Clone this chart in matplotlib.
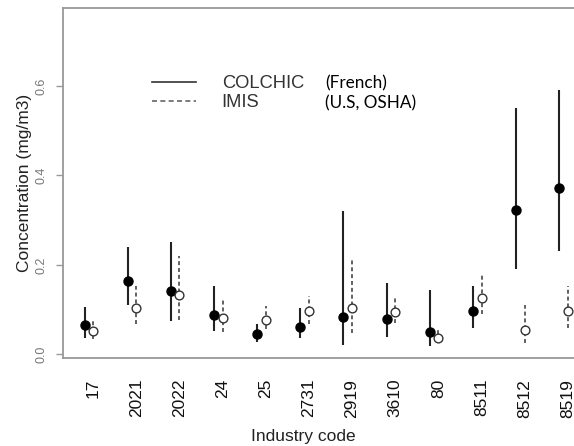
import matplotlib
matplotlib.use("Agg")
import matplotlib.pyplot as plt
from matplotlib.lines import Line2D
import numpy as np

codes = ['17', '2021', '2022', '24', '25', '2731', '2919', '3610', '80', '8511', '8512', '8519']
colchic_mean = [0.065, 0.163, 0.141, 0.089, 0.045, 0.062, 0.084, 0.080, 0.050, 0.097, 0.323, 0.372]
colchic_low = [0.037, 0.111, 0.074, 0.053, 0.027, 0.037, 0.022, 0.039, 0.019, 0.060, 0.190, 0.232]
colchic_high = [0.105, 0.241, 0.251, 0.152, 0.069, 0.104, 0.320, 0.160, 0.143, 0.152, 0.550, 0.591]
imis_mean = [0.052, 0.103, 0.132, 0.082, 0.078, 0.096, 0.103, 0.094, 0.037, 0.125, 0.054, 0.098]
imis_low = [0.035, 0.067, 0.078, 0.051, 0.057, 0.067, 0.048, 0.071, 0.030, 0.090, 0.026, 0.060]
imis_high = [0.080, 0.152, 0.219, 0.123, 0.108, 0.130, 0.212, 0.126, 0.056, 0.178, 0.111, 0.152]
yticks = [0.0, 0.2, 0.4, 0.6]
ytick_labels = ['0.0', '0.2', '0.4', '0.6']

W, H = 574, 446
fig = plt.figure(figsize=(W / 100, H / 100), dpi=100)
ax = fig.add_axes([63 / W, (H - 358) / H, 535 / W, 350 / H])

pos = np.arange(1, len(codes) + 1)
xc = pos - 0.2
xi = pos + 0.0

ax.vlines(xc, colchic_low, colchic_high, colors='#222222', linewidth=1.5, linestyles='solid', zorder=2)
ax.plot(xc, colchic_mean, 'o', color='black', markersize=6.5, zorder=3)

ax.vlines(xi, imis_low, imis_high, colors='#555555', linewidth=1.3, linestyles=(0, (2.2, 1.6)), zorder=2)
ax.plot(xi, imis_mean, 'o', markerfacecolor='white', markeredgecolor='#333333',
        markeredgewidth=1.0, markersize=6.3, zorder=3)

ax.set_xlim(0.3, 12.7)
ax.set_ylim(-0.008, 0.774)

ax.set_xticks(pos)
ax.set_xticklabels(codes, rotation=90, fontsize=12.5, family='Liberation Sans', color='#111111')
ax.tick_params(axis='x', length=0, pad=15)
ax.set_yticks(yticks)
ax.set_yticklabels(ytick_labels, rotation=90, fontsize=9, family='Liberation Sans',
                   color='#777777', va='center')
ax.tick_params(axis='y', length=5, width=1, color='#999999', pad=6)

for s in ax.spines.values():
    s.set_color('#999999')
    s.set_linewidth(1.3)

ax.set_ylabel('Concentration (mg/m3)', fontsize=12.5, family='Liberation Sans', color='#222222', labelpad=3)
fig.text(303 / W, 1 - 437 / H, 'Industry code', ha='center', va='center', fontsize=12.5,
         family='Liberation Sans', color='#222222')

handles = [Line2D([], [], color='#333333', linewidth=1.2, linestyle='solid'),
           Line2D([], [], color='#666666', linewidth=1.2, linestyle=(0, (3, 2)))]
leg = ax.legend(handles, ['COLCHIC', 'IMIS'], loc='upper left', frameon=False,
                bbox_to_anchor=(152 / W, 1 - 75 / H), bbox_transform=fig.transFigure,
                borderpad=0, borderaxespad=0, handlelength=2.4, handletextpad=1.4,
                labelspacing=0.12, prop={'family': 'Liberation Sans', 'size': 13.2})
for t in leg.get_texts():
    t.set_color('#333333')

fig.text(325 / W, 1 - 83 / H, '(French)', ha='left', va='center', fontsize=12.3, family='Lato', color='black')
fig.text(325 / W, 1 - 103 / H, '(U.S, OSHA)', ha='left', va='center', fontsize=12.3, family='Lato', color='black')

fig.savefig('out.png', dpi=100)
